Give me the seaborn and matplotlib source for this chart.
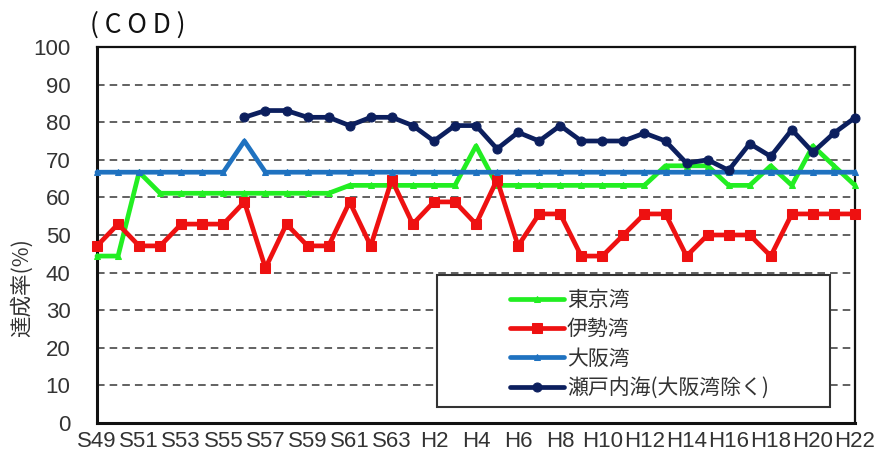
import numpy as np
import pandas as pd
import matplotlib
matplotlib.use("Agg")
import matplotlib.pyplot as plt
import seaborn as sns
from matplotlib.patches import Rectangle

# Fiscal years, Showa 49 through Heisei 22
years = ["S49", "S50", "S51", "S52", "S53", "S54", "S55", "S56", "S57", "S58",
         "S59", "S60", "S61", "S62", "S63", "H1", "H2", "H3", "H4", "H5",
         "H6", "H7", "H8", "H9", "H10", "H11", "H12", "H13", "H14", "H15",
         "H16", "H17", "H18", "H19", "H20", "H21", "H22"]

# COD environmental standard achievement rate (%)
tokyo = [44.4, 44.4, 66.7, 61.1, 61.1, 61.1, 61.1, 61.1, 61.1, 61.1,
         61.1, 61.1, 63.2, 63.2, 63.2, 63.2, 63.2, 63.2, 73.7, 63.2,
         63.2, 63.2, 63.2, 63.2, 63.2, 63.2, 63.2, 68.4, 68.4, 68.4,
         63.2, 63.2, 68.4, 63.2, 73.7, 68.4, 63.2]
ise = [47.1, 52.9, 47.1, 47.1, 52.9, 52.9, 52.9, 58.8, 41.2, 52.9,
       47.1, 47.1, 58.8, 47.1, 64.7, 52.9, 58.8, 58.8, 52.9, 64.7,
       47.1, 55.6, 55.6, 44.4, 44.4, 50.0, 55.6, 55.6, 44.4, 50.0,
       50.0, 50.0, 44.4, 55.6, 55.6, 55.6, 55.6]
osaka = [66.7, 66.7, 66.7, 66.7, 66.7, 66.7, 66.7, 75.0, 66.7, 66.7,
         66.7, 66.7, 66.7, 66.7, 66.7, 66.7, 66.7, 66.7, 66.7, 66.7,
         66.7, 66.7, 66.7, 66.7, 66.7, 66.7, 66.7, 66.7, 66.7, 66.7,
         66.7, 66.7, 66.7, 66.7, 66.7, 66.7, 66.7]
seto = [np.nan, np.nan, np.nan, np.nan, np.nan, np.nan, np.nan, 81.3, 83.1, 83.1,
        81.3, 81.3, 79.1, 81.3, 81.3, 79.1, 75.0, 79.1, 79.1, 72.9,
        77.3, 75.0, 79.1, 75.0, 75.0, 75.0, 77.1, 75.0, 69.1, 70.0,
        67.2, 74.3, 70.9, 78.0, 72.0, 77.1, 81.2]

names = ["東京湾", "伊勢湾", "大阪湾", "瀬戸内海(大阪湾除く)"]
series = [tokyo, ise, osaka, seto]
colors = ["#22ee22", "#ee1111", "#1f72c0", "#0c1f5e"]
markers = ["^", "s", "^", "o"]
msizes = [4.5, 7.5, 4.5, 6.5]

sns.set_style("white")
plt.rcParams["font.family"] = ["Liberation Sans", "Noto Sans CJK JP", "DejaVu Sans"]

fig = plt.figure(figsize=(8.75, 4.61), dpi=100)
ax = fig.add_axes([97 / 875, 1 - 423 / 461, 758 / 875, 376 / 461])

x = np.arange(len(years))
for name, vals, c, m, ms in zip(names, series, colors, markers, msizes):
    df = pd.DataFrame({"x": x, "v": vals}).dropna()
    sns.lineplot(data=df, x="x", y="v", ax=ax, color=c, marker=m,
                 markersize=ms, markeredgecolor=c, linewidth=3.4,
                 label=name, clip_on=False, zorder=3)

ax.set_xlim(0, len(years) - 1)
ax.set_ylim(0, 100)
ax.set_yticks(np.arange(0, 101, 10))
ax.set_xticks(x)
ax.set_xticklabels([y if i % 2 == 0 else "" for i, y in enumerate(years)])
ax.set_xlabel("")
ax.set_ylabel("")

ax.yaxis.grid(True, linestyle=(0, (4.2, 2.8)), color="#555555", linewidth=1.3, zorder=0.5)
ax.xaxis.grid(False)
ax.set_axisbelow(True)

for side in ["left", "bottom"]:
    ax.spines[side].set_linewidth(2.2)
for side in ["top", "right"]:
    ax.spines[side].set_linewidth(1.6)
for sp in ax.spines.values():
    sp.set_color("#111111")
    sp.set_visible(True)

ax.tick_params(axis="x", direction="in", length=3.5, width=1, color="#222222",
               pad=6, labelsize=16, labelcolor="#333333")
ax.tick_params(axis="y", length=0, pad=19, labelsize=16, labelcolor="#333333")

# legend box
ax.add_patch(Rectangle((0.449, 0.043), 0.518, 0.351, transform=ax.transAxes,
                       facecolor="white", edgecolor="#333333", linewidth=1.5,
                       zorder=4))
handles, labels = ax.get_legend_handles_labels()
leg = ax.legend(handles, labels, loc="upper left", bbox_to_anchor=(0.525, 0.395),
                frameon=False, handlelength=2.6, handletextpad=0.15,
                labelspacing=0.35, borderpad=0.2,
                prop={"family": ["Noto Sans CJK JP"], "size": 15})
leg.set_zorder(5)
for t in leg.get_texts():
    t.set_color("#333333")

fig.text(22 / 875, 1 - 288 / 461, "達成率(%)", rotation=90, ha="center", va="center",
         fontsize=15.5, family=["Noto Sans CJK JP"], color="#333333")
fig.text(90 / 875, 1 - 25 / 461, "( C O D )", ha="left", va="center",
         fontsize=19, family=["Noto Sans CJK JP"], color="#111111")

fig.savefig("out.png", dpi=100)
